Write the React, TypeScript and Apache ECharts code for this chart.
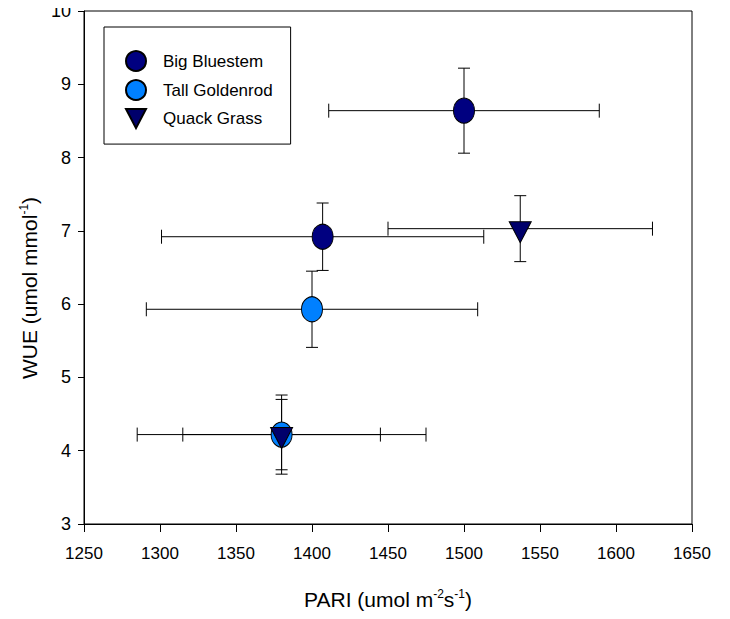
import React, { useEffect, useRef } from "react";
import * as echarts from "echarts";

// ---- data ----
const seriesNames = ["Big Bluestem", "Tall Goldenrod", "Quack Grass"];

const bigBluestemPari = [1500, 1407];
const bigBluestemWue = [8.64, 6.92];
const bigBluestemPariErr = [89, 106];
const bigBluestemWueErr = [0.58, 0.46];

const tallGoldenrodPari = [1400, 1380];
const tallGoldenrodWue = [5.93, 4.22];
const tallGoldenrodPariErr = [109, 95];
const tallGoldenrodWueErr = [0.52, 0.54];

const quackGrassPari = [1537, 1380];
const quackGrassWue = [7.03, 4.22];
const quackGrassPariErr = [87, 65];
const quackGrassWueErr = [0.45, 0.48];

const xMin = 1250;
const xMax = 1650;
const xStep = 50;
const yMin = 3;
const yMax = 10;
const yStep = 1;

const colors = ["#000080", "#0080FF", "#00006B"];
const downTriangle = "path://M0,0 L22,0 L11,21 Z";
const sans = "'Liberation Sans', Arial, sans-serif";

function rows(x: number[], y: number[], ex: number[], ey: number[]) {
  return x.map((v, i) => [v, y[i], ex[i], ey[i]]);
}

const errRender = (params: any, api: any) => {
  const x = api.value(0);
  const y = api.value(1);
  const ex = api.value(2);
  const ey = api.value(3);
  const l = api.coord([x - ex, y]);
  const r = api.coord([x + ex, y]);
  const t = api.coord([x, y + ey]);
  const b = api.coord([x, y - ey]);
  const cap = 6;
  const style = { stroke: "#000", lineWidth: 1 };
  const ln = (x1: number, y1: number, x2: number, y2: number) => ({
    type: "line",
    shape: { x1, y1, x2, y2 },
    style,
  });
  return {
    type: "group",
    children: [
      ln(l[0], l[1], r[0], r[1]),
      ln(l[0], l[1] - cap - 1, l[0], l[1] + cap + 1),
      ln(r[0], r[1] - cap - 1, r[0], r[1] + cap + 1),
      ln(t[0], t[1], b[0], b[1]),
      ln(t[0] - cap, t[1], t[0] + cap, t[1]),
      ln(b[0] - cap, b[1], b[0] + cap, b[1]),
    ],
  };
};

export default function App() {
  const ref = useRef<HTMLDivElement>(null);
  useEffect(() => {
    if (!ref.current) return;
    const chart = echarts.init(ref.current, null, { renderer: "svg" });
    const data = [
      rows(bigBluestemPari, bigBluestemWue, bigBluestemPariErr, bigBluestemWueErr),
      rows(tallGoldenrodPari, tallGoldenrodWue, tallGoldenrodPariErr, tallGoldenrodWueErr),
      rows(quackGrassPari, quackGrassWue, quackGrassPariErr, quackGrassWueErr),
    ];
    const errSeries = data.map((d, i) => ({
      type: "custom",
      name: seriesNames[i] + " error",
      data: d,
      encode: { x: 0, y: 1 },
      renderItem: errRender,
      z: 1,
      silent: true,
    }));
    const pointSeries = data.map((d, i) => ({
      type: "scatter",
      name: seriesNames[i],
      data: d.map((r) => [r[0], r[1]]),
      symbol: i === 2 ? downTriangle : "circle",
      symbolSize: i === 2 ? [22, 21] : [21, 25],
      symbolOffset: i === 2 ? [0, 3.5] : [0, 0],
      itemStyle: { color: colors[i], borderColor: "#000", borderWidth: 1, opacity: 1 },
      z: 3,
    }));
    chart.setOption({
      animation: false,
      grid: {
        left: 84,
        top: 11,
        right: 38,
        bottom: 95,
        show: true,
        borderColor: "#000",
        borderWidth: 1,
        backgroundColor: "transparent",
      },
      legend: {
        orient: "vertical",
        left: 104,
        top: 27,
        padding: [23, 18, 15, 21],
        itemGap: 7,
        itemWidth: 20,
        itemHeight: 20,
        borderColor: "#000",
        borderWidth: 1,
        borderRadius: 0,
        data: [
          { name: seriesNames[0], icon: "circle" },
          { name: seriesNames[1], icon: "circle" },
          { name: seriesNames[2], icon: downTriangle },
        ],
        textStyle: {
          fontFamily: sans,
          fontSize: 17,
          color: "#000",
          padding: [0, 0, 0, 12],
        },
      },
      xAxis: {
        type: "value",
        min: xMin,
        max: xMax,
        interval: xStep,
        axisLine: { show: true, lineStyle: { color: "#000", width: 1 } },
        axisTick: { show: true, inside: false, length: 8, lineStyle: { color: "#000" } },
        splitLine: { show: false },
        axisLabel: {
          color: "#000",
          fontSize: 17,
          fontFamily: sans,
          margin: 21,
          formatter: (v: number) => String(v),
        },
        name: "{n|PARI (umol m}{s|-2}{n|s}{s|-1}{n|)}",
        nameLocation: "middle",
        nameGap: 64,
        nameTextStyle: {
          rich: {
            n: { fontSize: 21, fontFamily: sans, color: "#000" },
            s: {
              fontSize: 12,
              verticalAlign: "top",
              fontFamily: sans,
              color: "#000",
              padding: [0, 0, 10, 0],
            },
          },
        },
      },
      yAxis: {
        type: "value",
        min: yMin,
        max: yMax,
        interval: yStep,
        axisLine: { show: true, lineStyle: { color: "#000", width: 1 } },
        axisTick: { show: true, inside: false, length: 6, lineStyle: { color: "#000" } },
        splitLine: { show: false },
        axisLabel: {
          color: "#000",
          fontSize: 18,
          fontFamily: sans,
          margin: 13,
          formatter: (v: number) => String(v),
        },
      },
      graphic: [
        {
          type: "text",
          x: 29,
          y: 288,
          rotation: Math.PI / 2,
          style: {
            text: "{n|WUE (umol mmol}{s|-1}{n|)}",
            align: "center",
            verticalAlign: "middle",
            rich: {
              n: { fontSize: 21, fontFamily: sans, fill: "#000" },
              s: {
                fontSize: 12,
                fontFamily: sans,
                fill: "#000",
                padding: [0, 0, 10, 0],
              },
            },
          },
        },
      ],
      series: [...errSeries, ...pointSeries],
    });
    return () => chart.dispose();
  }, []);
  return <div ref={ref} style={{ width: 730, height: 619, margin: -8 }} />;
}
